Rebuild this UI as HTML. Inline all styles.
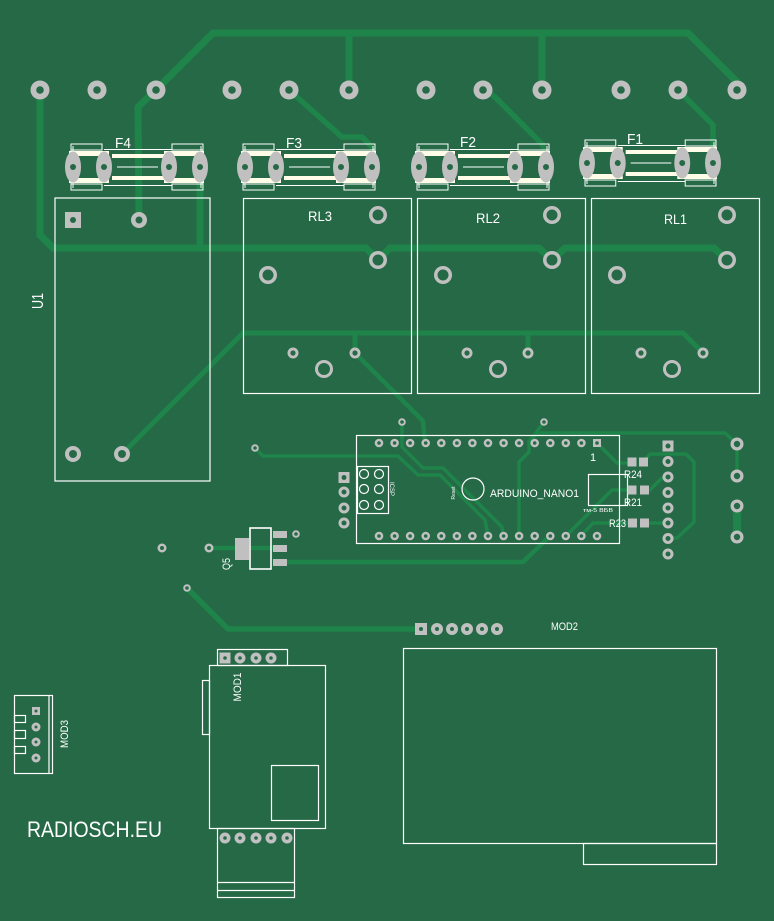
<!DOCTYPE html>
<html><head><meta charset="utf-8"><style>html,body{margin:0;padding:0;background:#266946}svg{display:block}</style></head>
<body>
<svg width="774" height="921" viewBox="0 0 774 921" xmlns="http://www.w3.org/2000/svg">
<rect width="774" height="921" fill="#266946"/>
<defs>
<g id="fuse">
 <rect x="-4" y="-16" width="40" height="5" fill="#fffde8"/>
 <rect x="-4" y="11" width="40" height="5" fill="#fffde8"/>
 <rect x="91" y="-16" width="40" height="5" fill="#fffde8"/>
 <rect x="91" y="11" width="40" height="5" fill="#fffde8"/>
 <rect x="39" y="-13" width="52" height="4" fill="#fffde8"/>
 <rect x="39" y="9" width="52" height="4" fill="#fffde8"/>
 <g fill="none" stroke="#fff" stroke-width="1">
  <rect x="-2" y="-23" width="31" height="6"/>
  <rect x="-2" y="17" width="31" height="6"/>
  <rect x="99" y="-23" width="31" height="6"/>
  <rect x="99" y="17" width="31" height="6"/>
  <line x1="-2" y1="-23" x2="-2" y2="23"/>
  <line x1="130" y1="-23" x2="130" y2="23"/>
  <line x1="0" y1="-21" x2="0" y2="21"/>
  <line x1="128" y1="-21" x2="128" y2="21"/>
  <line x1="31" y1="-17.5" x2="99" y2="-17.5"/>
  <line x1="31" y1="18.5" x2="99" y2="18.5"/>
  <line x1="44" y1="0" x2="85" y2="0"/>
 </g>
 <g fill="#c0c0c0">
  <ellipse cx="0" cy="0" rx="8" ry="15.5"/>
  <ellipse cx="31" cy="0" rx="8" ry="15.5"/>
  <ellipse cx="96" cy="0" rx="8" ry="15.5"/>
  <ellipse cx="127" cy="0" rx="8" ry="15.5"/>
 </g>
 <g fill="#266946">
  <circle cx="0" cy="0" r="3"/><circle cx="31" cy="0" r="3"/><circle cx="96" cy="0" r="3"/><circle cx="127" cy="0" r="3"/>
 </g>
</g>
</defs>

<!-- TRACES -->
<g fill="none" stroke="#1e8449" stroke-linejoin="miter" stroke-linecap="round">
 <polyline stroke-width="7" points="156,90 213,33 688,33 737,82 737,90"/>
 <line x1="349" y1="33" x2="349" y2="90" stroke-width="7"/>
 <line x1="542" y1="33" x2="542" y2="90" stroke-width="7"/>
 <polyline stroke-width="7" points="156,90 138,107 139,220"/>
 <polyline stroke-width="7" points="40,90 40,235 53,248 366,248 378,260 390,248 539,248 552,260 565,248 714,248 727,260"/>
 <line x1="200" y1="167" x2="200" y2="248" stroke-width="7"/>
 <polyline stroke-width="5.5" points="289,90 342,137 362,137 372,147 372,167"/>
 <polyline stroke-width="5.5" points="483,90 495,97 543,145 546,167"/>
 <polyline stroke-width="5.5" points="678,90 713,125 713,163"/>
 <polyline stroke-width="5" points="122,454 243,333 683,333 703,353"/>
 <line x1="355" y1="333" x2="355" y2="353" stroke-width="5"/>
 <line x1="528" y1="333" x2="528" y2="353" stroke-width="5"/>
 <polyline stroke-width="4.5" points="355,353 423,421 425,443"/>
 <!-- arduino traces -->
 <polyline stroke-width="3.5" points="402,422 402,447 423,468 443,468 502,527 503,536"/>
 <polyline stroke-width="3.5" points="255,448 263,456 398,456 418,475 440,475 485,520 488,536"/>
 <polyline stroke-width="3.5" points="519,536 519,462 529,452 529,441 538,433 725,433 737,444"/>
 <line x1="544" y1="422" x2="532" y2="438" stroke-width="3.5"/>
 <polyline stroke-width="3.5" points="597,443 617,463 632,463"/>
 <polyline stroke-width="3.5" points="643,462 650,454 686,454 694,462 694,522 677,538 668,538"/>
 <polyline stroke-width="3.5" points="632,490 612,490 566,536"/>
 <polyline stroke-width="3.5" points="644,490 650,490 662,478 668,477"/>
 <polyline stroke-width="3.5" points="633,523 593,523 581,536"/>
 <line x1="644" y1="523" x2="668" y2="523" stroke-width="3.5"/>
 <line x1="737" y1="444" x2="737" y2="476" stroke-width="3.5"/>
 <line x1="737" y1="506" x2="737" y2="537" stroke-width="8"/>
 <!-- Q5 traces -->
 <line x1="209" y1="548" x2="273" y2="548" stroke-width="4.5"/>
 <polyline stroke-width="4.5" points="287,562 523,562 550,536"/>
 <!-- MOD2 trace -->
 <polyline stroke-width="5.5" points="187,588 228,629 421,629"/>
</g>

<!-- SILKSCREEN -->
<g fill="none" stroke="#ffffff" stroke-width="1.2">
 <rect x="55" y="198" width="155" height="283"/>
 <rect x="243.5" y="198.5" width="168" height="195"/>
 <rect x="417.5" y="198.5" width="168" height="195"/>
 <rect x="591.5" y="198.5" width="168" height="195"/>
 <rect x="356.5" y="435.5" width="263" height="108"/>
 <rect x="357.5" y="466.5" width="31" height="47"/>
 <circle cx="364" cy="474" r="4.5"/><circle cx="379" cy="474" r="4.5"/>
 <circle cx="364" cy="489" r="4.5"/><circle cx="379" cy="489" r="4.5"/>
 <circle cx="364" cy="505" r="4.5"/><circle cx="379" cy="505" r="4.5"/>
 <circle cx="473" cy="489" r="11"/>
 <rect x="588.5" y="474.5" width="39" height="31"/>
 <rect x="250" y="528" width="21" height="41" stroke-width="1.6"/>
 <!-- MOD2 -->
 <rect x="403.5" y="648.5" width="313" height="195"/>
 <rect x="583.5" y="843.5" width="133" height="21"/>
 <!-- MOD1 -->
 <rect x="217.5" y="649.5" width="70" height="16"/>
 <rect x="209.5" y="665.5" width="116" height="163"/>
 <rect x="202.5" y="680.5" width="7" height="54"/>
 <rect x="271.5" y="765.5" width="47" height="55"/>
 <rect x="217.5" y="828.5" width="77" height="69"/>
 <line x1="217.5" y1="882.5" x2="294.5" y2="882.5"/>
 <line x1="217.5" y1="890.5" x2="294.5" y2="890.5"/>
 <!-- MOD3 -->
 <rect x="14.5" y="695.5" width="38" height="78"/>
 <line x1="49" y1="695.5" x2="49" y2="773.5"/>
 <rect x="14.5" y="715.5" width="11" height="7"/>
 <rect x="14.5" y="730.5" width="11" height="8"/>
 <rect x="14.5" y="746.5" width="11" height="7"/>
</g>

<!-- FUSES -->
<use href="#fuse" x="73" y="167"/>
<use href="#fuse" x="245" y="167"/>
<use href="#fuse" x="419" y="167"/>
<g transform="translate(587,163) scale(0.992,1)"><use href="#fuse"/></g>

<!-- PADS -->
<g fill="#c0c0c0">
 <!-- top row -->
 <circle cx="40" cy="90" r="9.5"/><circle cx="97" cy="90" r="9.5"/><circle cx="156" cy="90" r="9.5"/>
 <circle cx="232" cy="90" r="9.5"/><circle cx="289" cy="90" r="9.5"/><circle cx="349" cy="90" r="9.5"/>
 <circle cx="426" cy="90" r="9.5"/><circle cx="483" cy="90" r="9.5"/><circle cx="542" cy="90" r="9.5"/>
 <circle cx="621" cy="90" r="9.5"/><circle cx="678" cy="90" r="9.5"/><circle cx="737" cy="90" r="9.5"/>
 <!-- U1 -->
 <rect x="65" y="212" width="16" height="16"/>
 <circle cx="139" cy="220" r="8"/>
 <circle cx="73" cy="454" r="8"/><circle cx="122" cy="454" r="8"/>
 <!-- relays -->
 <circle cx="378" cy="215" r="9"/><circle cx="378" cy="260" r="9"/><circle cx="268" cy="275" r="9"/>
 <circle cx="293" cy="353" r="5.5"/><circle cx="355" cy="353" r="5.5"/><circle cx="324" cy="369" r="9"/>
 <circle cx="552" cy="215" r="9"/><circle cx="552" cy="260" r="9"/><circle cx="443" cy="275" r="9"/>
 <circle cx="467" cy="353" r="5.5"/><circle cx="528" cy="353" r="5.5"/><circle cx="498" cy="369" r="9"/>
 <circle cx="727" cy="215" r="9"/><circle cx="727" cy="260" r="9"/><circle cx="617" cy="275" r="9"/>
 <circle cx="641" cy="353" r="5.5"/><circle cx="703" cy="353" r="5.5"/><circle cx="672" cy="369" r="9"/>
 <!-- vias -->
 <circle cx="402" cy="422" r="3.8"/><circle cx="255" cy="448" r="3.8"/><circle cx="544" cy="422" r="3.8"/>
 <circle cx="162" cy="548" r="4.5"/><circle cx="209" cy="548" r="4.5"/><circle cx="296" cy="534" r="3.8"/>
 <circle cx="187" cy="588" r="3.8"/>
 <!-- arduino pins -->
 <circle cx="379" cy="443" r="4.3"/><circle cx="394.6" cy="443" r="4.3"/><circle cx="410.1" cy="443" r="4.3"/>
 <circle cx="425.7" cy="443" r="4.3"/><circle cx="441.3" cy="443" r="4.3"/><circle cx="456.9" cy="443" r="4.3"/>
 <circle cx="472.4" cy="443" r="4.3"/><circle cx="488" cy="443" r="4.3"/><circle cx="503.6" cy="443" r="4.3"/>
 <circle cx="519.1" cy="443" r="4.3"/><circle cx="534.7" cy="443" r="4.3"/><circle cx="550.3" cy="443" r="4.3"/>
 <circle cx="565.8" cy="443" r="4.3"/><circle cx="581.4" cy="443" r="4.3"/>
 <rect x="593" y="439" width="8" height="8"/>
 <circle cx="379" cy="536" r="4.3"/><circle cx="394.6" cy="536" r="4.3"/><circle cx="410.1" cy="536" r="4.3"/>
 <circle cx="425.7" cy="536" r="4.3"/><circle cx="441.3" cy="536" r="4.3"/><circle cx="456.9" cy="536" r="4.3"/>
 <circle cx="472.4" cy="536" r="4.3"/><circle cx="488" cy="536" r="4.3"/><circle cx="503.6" cy="536" r="4.3"/>
 <circle cx="519.1" cy="536" r="4.3"/><circle cx="534.7" cy="536" r="4.3"/><circle cx="550.3" cy="536" r="4.3"/>
 <circle cx="565.8" cy="536" r="4.3"/><circle cx="581.4" cy="536" r="4.3"/><circle cx="597" cy="536" r="4.3"/>
 <!-- left header -->
 <rect x="338.5" y="472" width="11" height="11"/>
 <circle cx="344" cy="492" r="5.5"/><circle cx="344" cy="508" r="5.5"/><circle cx="344" cy="523" r="5.5"/>
 <!-- right column -->
 <rect x="662.5" y="440.5" width="11" height="11"/>
 <circle cx="668" cy="461.5" r="5.5"/><circle cx="668" cy="477" r="5.5"/><circle cx="668" cy="492.5" r="5.5"/>
 <circle cx="668" cy="508" r="5.5"/><circle cx="668" cy="523" r="5.5"/><circle cx="668" cy="538.5" r="5.5"/>
 <circle cx="668" cy="554" r="5.5"/>
 <!-- far right -->
 <circle cx="737" cy="444" r="6.5"/><circle cx="737" cy="476" r="6.5"/>
 <circle cx="737" cy="506" r="6.5"/><circle cx="737" cy="537" r="6.5"/>
 <!-- R pads -->
 <rect x="627.5" y="457.5" width="9" height="9"/><rect x="639" y="457.5" width="9" height="9"/>
 <rect x="627.5" y="485.5" width="9" height="9"/><rect x="640" y="485.5" width="9" height="9"/>
 <rect x="628" y="518.5" width="9" height="9"/><rect x="640" y="518.5" width="9" height="9"/>
 <!-- Q5 -->
 <rect x="235" y="538" width="14" height="22"/>
 <rect x="273" y="531" width="14" height="7"/>
 <rect x="273" y="545" width="14" height="7"/>
 <rect x="273" y="559" width="14" height="7"/>
 <!-- MOD2 header -->
 <rect x="415" y="623" width="12" height="12"/>
 <circle cx="437" cy="629" r="6"/><circle cx="452" cy="629" r="6"/><circle cx="467" cy="629" r="6"/>
 <circle cx="482" cy="629" r="6"/><circle cx="497" cy="629" r="6"/>
 <!-- MOD1 -->
 <rect x="219.5" y="652.5" width="11" height="11"/>
 <circle cx="240" cy="658" r="5.5"/><circle cx="256" cy="658" r="5.5"/><circle cx="271" cy="658" r="5.5"/>
 <circle cx="225" cy="838" r="5.5"/><circle cx="240" cy="838" r="5.5"/><circle cx="256" cy="838" r="5.5"/>
 <circle cx="271" cy="838" r="5.5"/><circle cx="287" cy="838" r="5.5"/>
 <!-- MOD3 -->
 <rect x="32" y="707" width="8" height="8"/>
 <circle cx="36" cy="727" r="4.5"/><circle cx="36" cy="742" r="4.5"/><circle cx="36" cy="758" r="4.5"/>
</g>
<!-- PAD HOLES -->
<g fill="#266946">
 <circle cx="40" cy="90" r="3.8"/><circle cx="97" cy="90" r="3.8"/><circle cx="156" cy="90" r="3.8"/>
 <circle cx="232" cy="90" r="3.8"/><circle cx="289" cy="90" r="3.8"/><circle cx="349" cy="90" r="3.8"/>
 <circle cx="426" cy="90" r="3.8"/><circle cx="483" cy="90" r="3.8"/><circle cx="542" cy="90" r="3.8"/>
 <circle cx="621" cy="90" r="3.8"/><circle cx="678" cy="90" r="3.8"/><circle cx="737" cy="90" r="3.8"/>
 <circle cx="73" cy="220" r="3"/><circle cx="139" cy="220" r="3.5"/>
 <circle cx="73" cy="454" r="4"/><circle cx="122" cy="454" r="4"/>
 <circle cx="378" cy="215" r="5.5"/><circle cx="378" cy="260" r="5.5"/><circle cx="268" cy="275" r="5.5"/>
 <circle cx="293" cy="353" r="2.6"/><circle cx="355" cy="353" r="2.6"/><circle cx="324" cy="369" r="6"/>
 <circle cx="552" cy="215" r="5.5"/><circle cx="552" cy="260" r="5.5"/><circle cx="443" cy="275" r="5.5"/>
 <circle cx="467" cy="353" r="2.6"/><circle cx="528" cy="353" r="2.6"/><circle cx="498" cy="369" r="6"/>
 <circle cx="727" cy="215" r="5.5"/><circle cx="727" cy="260" r="5.5"/><circle cx="617" cy="275" r="5.5"/>
 <circle cx="641" cy="353" r="2.6"/><circle cx="703" cy="353" r="2.6"/><circle cx="672" cy="369" r="6"/>
 <circle cx="402" cy="422" r="1.8"/><circle cx="255" cy="448" r="1.8"/><circle cx="544" cy="422" r="1.8"/>
 <circle cx="162" cy="548" r="2"/><circle cx="209" cy="548" r="2"/><circle cx="296" cy="534" r="1.8"/>
 <circle cx="187" cy="588" r="1.8"/>
 <circle cx="379" cy="443" r="1.8"/><circle cx="394.6" cy="443" r="1.8"/><circle cx="410.1" cy="443" r="1.8"/>
 <circle cx="425.7" cy="443" r="1.8"/><circle cx="441.3" cy="443" r="1.8"/><circle cx="456.9" cy="443" r="1.8"/>
 <circle cx="472.4" cy="443" r="1.8"/><circle cx="488" cy="443" r="1.8"/><circle cx="503.6" cy="443" r="1.8"/>
 <circle cx="519.1" cy="443" r="1.8"/><circle cx="534.7" cy="443" r="1.8"/><circle cx="550.3" cy="443" r="1.8"/>
 <circle cx="565.8" cy="443" r="1.8"/><circle cx="581.4" cy="443" r="1.8"/><circle cx="597" cy="443" r="1.8"/>
 <circle cx="379" cy="536" r="1.8"/><circle cx="394.6" cy="536" r="1.8"/><circle cx="410.1" cy="536" r="1.8"/>
 <circle cx="425.7" cy="536" r="1.8"/><circle cx="441.3" cy="536" r="1.8"/><circle cx="456.9" cy="536" r="1.8"/>
 <circle cx="472.4" cy="536" r="1.8"/><circle cx="488" cy="536" r="1.8"/><circle cx="503.6" cy="536" r="1.8"/>
 <circle cx="519.1" cy="536" r="1.8"/><circle cx="534.7" cy="536" r="1.8"/><circle cx="550.3" cy="536" r="1.8"/>
 <circle cx="565.8" cy="536" r="1.8"/><circle cx="581.4" cy="536" r="1.8"/><circle cx="597" cy="536" r="1.8"/>
 <circle cx="344" cy="477.5" r="2.5"/><circle cx="344" cy="492" r="2.5"/><circle cx="344" cy="508" r="2.5"/><circle cx="344" cy="523" r="2.5"/>
 <circle cx="668" cy="446" r="2.5"/><circle cx="668" cy="461.5" r="2.5"/><circle cx="668" cy="477" r="2.5"/><circle cx="668" cy="492.5" r="2.5"/>
 <circle cx="668" cy="508" r="2.5"/><circle cx="668" cy="523" r="2.5"/><circle cx="668" cy="538.5" r="2.5"/><circle cx="668" cy="554" r="2.5"/>
 <circle cx="737" cy="444" r="3.2"/><circle cx="737" cy="476" r="3.2"/><circle cx="737" cy="506" r="3.2"/><circle cx="737" cy="537" r="3.2"/>
 <circle cx="421" cy="629" r="2"/><circle cx="437" cy="629" r="2"/><circle cx="452" cy="629" r="2"/><circle cx="467" cy="629" r="2"/>
 <circle cx="482" cy="629" r="2"/><circle cx="497" cy="629" r="2"/>
 <circle cx="225" cy="658" r="1.8"/><circle cx="240" cy="658" r="1.8"/><circle cx="256" cy="658" r="1.8"/><circle cx="271" cy="658" r="1.8"/>
 <circle cx="225" cy="838" r="1.8"/><circle cx="240" cy="838" r="1.8"/><circle cx="256" cy="838" r="1.8"/><circle cx="271" cy="838" r="1.8"/><circle cx="287" cy="838" r="1.8"/>
 <circle cx="36" cy="711" r="1.5"/><circle cx="36" cy="727" r="1.5"/><circle cx="36" cy="742" r="1.5"/><circle cx="36" cy="758" r="1.5"/>
</g>

<!-- TEXT -->
<g fill="#ffffff" font-family="'Liberation Sans', sans-serif">
 <text x="115" y="148" font-size="15" textLength="16" lengthAdjust="spacingAndGlyphs">F4</text>
 <text x="286" y="148" font-size="15" textLength="16" lengthAdjust="spacingAndGlyphs">F3</text>
 <text x="460" y="147" font-size="15" textLength="16" lengthAdjust="spacingAndGlyphs">F2</text>
 <text x="627" y="144" font-size="15" textLength="16" lengthAdjust="spacingAndGlyphs">F1</text>
 <text x="308" y="221" font-size="14" textLength="24" lengthAdjust="spacingAndGlyphs">RL3</text>
 <text x="476" y="223" font-size="14" textLength="24" lengthAdjust="spacingAndGlyphs">RL2</text>
 <text x="664" y="224" font-size="14" textLength="23" lengthAdjust="spacingAndGlyphs">RL1</text>
 <text transform="translate(43,301) rotate(-90)" x="0" y="0" font-size="16" text-anchor="middle" textLength="16" lengthAdjust="spacingAndGlyphs">U1</text>
 <text x="490" y="497" font-size="11" textLength="89" lengthAdjust="spacingAndGlyphs">ARDUINO_NANO1</text>
 <text x="590" y="461" font-size="11">1</text>
 <text x="624" y="478" font-size="11" textLength="18" lengthAdjust="spacingAndGlyphs">R24</text>
 <text x="624" y="506" font-size="11" textLength="18" lengthAdjust="spacingAndGlyphs">R21</text>
 <text x="609" y="527" font-size="11" textLength="17" lengthAdjust="spacingAndGlyphs">R23</text>
 <text x="583" y="512" font-size="5" textLength="30" lengthAdjust="spacingAndGlyphs">тм-5 ВБВ</text>
 <text transform="translate(390,489) rotate(90)" x="0" y="0" font-size="6" text-anchor="middle">ICSP</text>
 <text transform="translate(455,493) rotate(-90)" x="0" y="0" font-size="5" text-anchor="middle">Reset</text>
 <text transform="translate(230,564) rotate(-90)" x="0" y="0" font-size="11" text-anchor="middle" textLength="12" lengthAdjust="spacingAndGlyphs">Q5</text>
 <text x="551" y="630" font-size="11" textLength="27" lengthAdjust="spacingAndGlyphs">MOD2</text>
 <text transform="translate(241,687) rotate(-90)" x="0" y="0" font-size="11" text-anchor="middle" textLength="29" lengthAdjust="spacingAndGlyphs">MOD1</text>
 <text transform="translate(68,734) rotate(-90)" x="0" y="0" font-size="11" text-anchor="middle" textLength="28" lengthAdjust="spacingAndGlyphs">MOD3</text>
 <text x="27" y="837" font-size="22" textLength="135" lengthAdjust="spacingAndGlyphs">RADIOSCH.EU</text>
</g>
</svg>
</body></html>
